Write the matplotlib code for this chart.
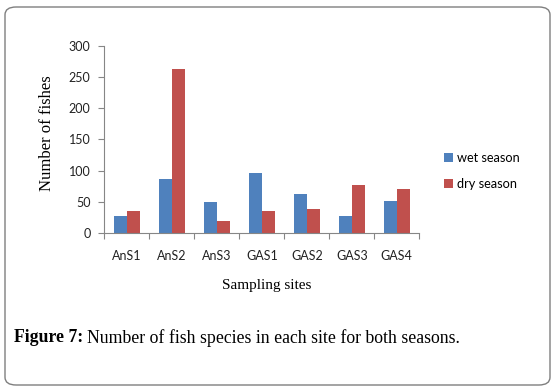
import numpy as np
import matplotlib.pyplot as plt
from matplotlib.patches import FancyBboxPatch

# 数据
sites = ['AnS1', 'AnS2', 'AnS3', 'GAS1', 'GAS2', 'GAS3', 'GAS4']
wet_season = [28, 87, 50, 96, 63, 28, 51]
dry_season = [35, 263, 19, 35, 39, 77, 71]

blue = '#4F81BD'
red = '#C0504D'
axis_grey = '#868686'

fig = plt.figure(figsize=(5.55, 3.88), dpi=100)
fig.patch.set_facecolor('white')

# 外框（圆角）
frame = FancyBboxPatch((5 / 555, 3 / 388), 545 / 555, 378 / 388,
                       boxstyle='round,pad=0,rounding_size=0.02',
                       transform=fig.transFigure, facecolor='none',
                       edgecolor='#7f7f7f', linewidth=1.0, zorder=0)
fig.patches.append(frame)

ax = fig.add_axes([104.3 / 555, 1 - 233 / 388, 315 / 555, 187.3 / 388])
ax.set_facecolor('none')
ax.set_zorder(2)

x = np.arange(len(sites))
w = 0.29
ax.bar(x - w / 2, wet_season, width=w, color=blue, label='wet season')
ax.bar(x + w / 2, dry_season, width=w, color=red, label='dry season')

ax.set_xlim(-0.5, len(sites) - 0.5)
ax.set_ylim(0, 300)
ax.set_yticks(np.arange(0, 301, 50))

# x 轴：刻度线在类别边界，标签在中间
ax.set_xticks(np.arange(-0.5, len(sites), 1.0))
ax.set_xticklabels([])
ax.set_xticks(x, minor=True)
ax.set_xticklabels(sites, minor=True, fontfamily='Lato', fontsize=9, color='#222222')
ax.tick_params(axis='x', which='major', length=4, color=axis_grey, direction='out')
ax.tick_params(axis='x', which='minor', length=0, pad=12)
ax.tick_params(axis='y', length=4, color=axis_grey, direction='out', pad=6)
for lab in ax.get_yticklabels():
    lab.set_fontfamily('Lato')
    lab.set_fontsize(9)
    lab.set_color('#222222')

for s in ['top', 'right']:
    ax.spines[s].set_visible(False)
for s in ['left', 'bottom']:
    ax.spines[s].set_color(axis_grey)
    ax.spines[s].set_linewidth(0.8)

# 坐标轴标题
fig.text(47 / 555, 1 - 133 / 388, 'Number of fishes', rotation=90,
         ha='center', va='center', fontfamily='Liberation Serif', fontsize=12)
fig.text(266.7 / 555, 1 - 285 / 388, 'Sampling sites',
         ha='center', va='center', fontfamily='Liberation Serif', fontsize=11)

# 图例
leg = fig.legend(loc='center left', bbox_to_anchor=(439 / 555, 1 - 171 / 388),
                 frameon=False, prop={'family': 'Lato', 'size': 9.2},
                 handlelength=0.7, handleheight=0.7, handletextpad=0.3,
                 labelspacing=1.05, borderaxespad=0)

# 图注
t1 = fig.text(14 / 555, 1 - 338 / 388, 'Figure 7:', fontweight='bold',
              fontfamily='Liberation Serif', fontsize=12.8, va='center', ha='left')
fig.canvas.draw()
bb = t1.get_window_extent()
fig.text((bb.x1 + 4) / 555, 1 - 338 / 388,
         'Number of fish species in each site for both seasons.',
         fontfamily='Liberation Serif', fontsize=12.8, va='center', ha='left')

fig.savefig('out.png', dpi=100)
